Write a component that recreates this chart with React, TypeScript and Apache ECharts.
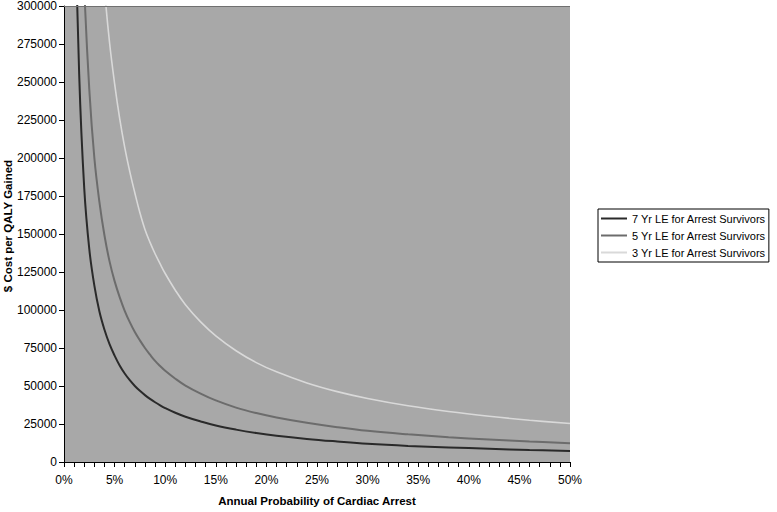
import React, { useEffect, useRef } from "react";
import * as echarts from "echarts";

// Annual probability of cardiac arrest (%)
const probability = [1, 1.5, 2, 2.5, 3, 3.5, 4, 4.5, 5, 5.5, 6, 6.5, 7, 7.5, 8, 8.5, 9, 9.5, 10, 11, 12, 13.5, 15, 17, 19, 21, 24, 27, 30, 34, 38, 42, 46, 50];

// $ cost per QALY gained
const le7 = [390000, 255000, 180000, 140000, 116000, 99000, 87000, 77500, 70000, 63500, 58200, 53800, 50000, 46800, 44000, 41500, 39300, 37300, 35500, 32400, 29800, 26700, 24000, 21300, 19100, 17300, 15200, 13500, 12000, 10600, 9600, 8700, 7900, 7300];
const le5 = [600000, 410000, 312000, 245000, 200000, 171000, 149000, 132000, 119000, 108500, 99500, 92000, 85500, 80000, 75000, 70600, 66500, 63100, 60000, 54800, 50300, 45000, 40500, 35800, 32200, 29300, 25800, 22900, 20500, 18200, 16300, 14800, 13500, 12300];
const le3 = [null, null, 620000, 500000, 415000, 355000, 311000, 276000, 249000, 226000, 207000, 191000, 177000, 164000, 153000, 144500, 137000, 130300, 124000, 113000, 103500, 92200, 83000, 73200, 65400, 59300, 52000, 46300, 41800, 37000, 33200, 30100, 27500, 25300];

const seriesNames = [
  "7 Yr LE for Arrest Survivors",
  "5 Yr LE for Arrest Survivors",
  "3 Yr LE for Arrest Survivors",
];
const seriesColors = ["#2a2a2a", "#6c6c6c", "#d9d9d9"];
const seriesWidths = [2, 2, 1.6];

const xTitle = "Annual Probability of Cardiac Arrest";
const yTitle = "$ Cost per QALY Gained";

const FONT = "'Liberation Sans', Arial, sans-serif";

export default function App() {
  const ref = useRef<HTMLDivElement>(null);
  useEffect(() => {
    if (!ref.current) return;
    const chart = echarts.init(ref.current, undefined, { renderer: "svg" });
    const allData = [le7, le5, le3];
    chart.setOption({
      animation: false,
      backgroundColor: "#ffffff",
      textStyle: { fontFamily: FONT },
      grid: {
        left: 64,
        right: 207,
        top: 6,
        bottom: 47,
        show: true,
        backgroundColor: "#a8a8a8",
        borderWidth: 0,
      },
      legend: {
        orient: "vertical",
        left: 598,
        top: 209,
        backgroundColor: "#ffffff",
        borderColor: "#000000",
        borderWidth: 1,
        borderRadius: 0,
        padding: [3, 3, 3, 3],
        itemGap: 4,
        itemWidth: 26,
        itemHeight: 2,
        itemTextGap: 4,
        icon: "rect",
        textStyle: { fontFamily: FONT, fontSize: 11, color: "#000", lineHeight: 13 },
        data: seriesNames,
      },
      xAxis: {
        type: "value",
        min: 0,
        max: 50,
        interval: 5,
        name: xTitle,
        nameLocation: "middle",
        nameGap: 33,
        nameTextStyle: { fontFamily: FONT, fontWeight: "bold", fontSize: 11.5, color: "#000" },
        axisLine: { show: true, onZero: false, lineStyle: { color: "#000", width: 1 } },
        axisTick: { show: true, inside: false, length: 5, lineStyle: { color: "#000" } },
        minorTick: { show: true, splitNumber: 5, length: 5, lineStyle: { color: "#000" } },
        splitLine: { show: false },
        axisLabel: {
          formatter: "{value}%",
          margin: 12,
          fontFamily: FONT,
          fontSize: 12,
          color: "#000",
        },
      },
      yAxis: {
        type: "value",
        min: 0,
        max: 300000,
        interval: 25000,
        axisLine: { show: true, lineStyle: { color: "#000", width: 1 } },
        axisTick: { show: true, inside: false, length: 5, lineStyle: { color: "#000" } },
        splitLine: { show: false },
        axisLabel: {
          margin: 7,
          fontFamily: FONT,
          fontSize: 12,
          color: "#000",
          formatter: (v: number) => String(v),
        },
      },
      graphic: [
        {
          type: "text",
          x: 8,
          y: 226,
          rotation: Math.PI / 2,
          style: {
            text: yTitle,
            fontFamily: FONT,
            fontWeight: "bold",
            fontSize: 11.5,
            fill: "#000",
            textAlign: "center",
            textVerticalAlign: "middle",
          },
        },
      ],
      series: seriesNames.map((name, i) => ({
        name,
        type: "line",
        data: probability.map((p, j) => [p, allData[i][j]]),
        showSymbol: false,
        symbol: "none",
        smooth: 0.4,
        connectNulls: false,
        clip: true,
        lineStyle: { color: seriesColors[i], width: seriesWidths[i] },
        itemStyle: { color: seriesColors[i] },
        markLine:
          i === 0
            ? {
                silent: true,
                symbol: "none",
                label: { show: false },
                lineStyle: { color: "#707070", width: 1, type: "solid" },
                data: [{ yAxis: 300000 }],
              }
            : undefined,
      })),
    });
    return () => chart.dispose();
  }, []);
  return (
    <div
      ref={ref}
      style={{ position: "fixed", left: 0, top: 0, width: 777, height: 512 }}
    />
  );
}
